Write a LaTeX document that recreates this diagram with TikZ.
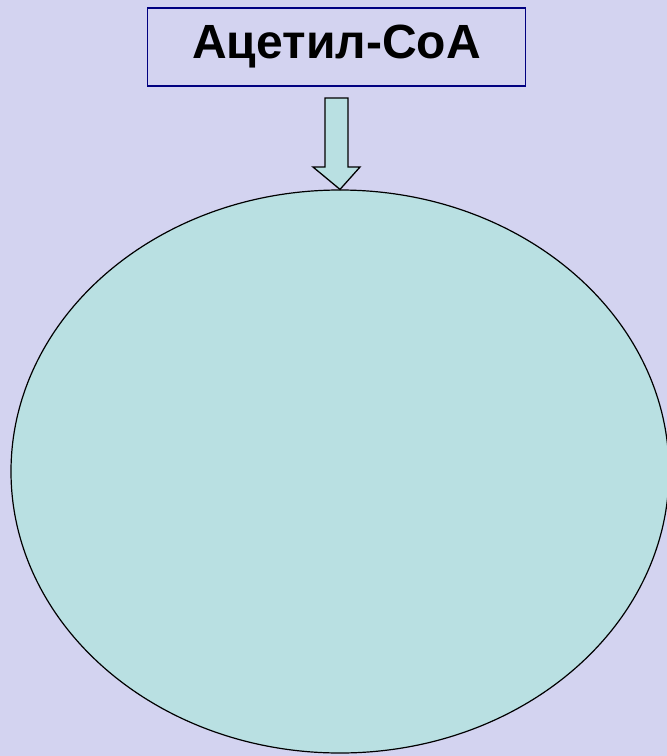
\documentclass[tikz,border=0pt]{standalone}
\usepackage{fontspec}
\setmainfont{Liberation Sans}
\usetikzlibrary{shapes.geometric}
\definecolor{bgcol}{HTML}{D3D3F0}
\definecolor{cyanfill}{HTML}{B9E0E2}
\definecolor{navy}{HTML}{000080}
\begin{document}
\begin{tikzpicture}[x=1pt,y=-1pt,
  titlebox/.style={draw=navy,line width=1.3pt,fill=bgcol,minimum width=378pt,minimum height=78pt,inner sep=0pt,font=\fontsize{48}{52}\selectfont\bfseries},
  cycle/.style={draw=black,line width=1.2pt,fill=cyanfill,ellipse,minimum width=658pt,minimum height=563pt,inner sep=0pt},
  blockarrow/.style={draw=black,line width=1.3pt,fill=cyanfill,line join=miter}]
\fill[bgcol] (0,0) rectangle (667,756);
\useasboundingbox (0,0) rectangle (667,756);
\begin{scope}
\clip (0,0) rectangle (667,756);
\node[cycle] (cyc) at (340,471.5) {};
\end{scope}
\node[titlebox] (acoa) at (336.5,47) {Ацетил-СоА};
\draw[blockarrow] (325,98) -- (348,98) -- (348,167) -- (360,167) -- (cyc.north) -- (313,167) -- (325,167) -- cycle;
\end{tikzpicture}
\end{document}
